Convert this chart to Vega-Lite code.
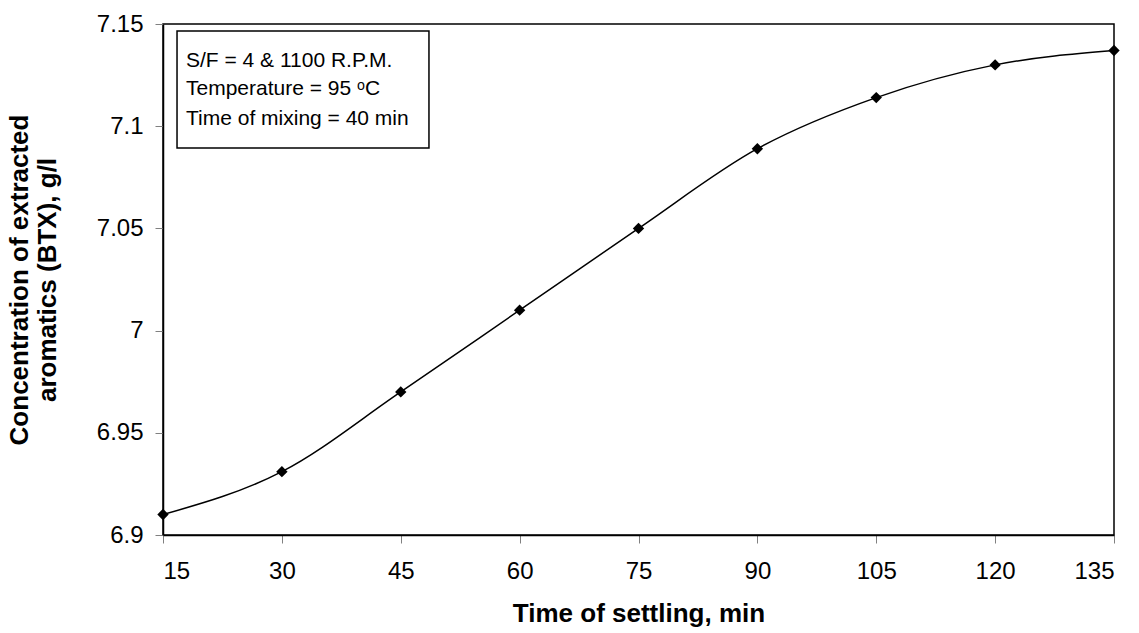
{
  "$schema": "https://vega.github.io/schema/vega-lite/v6.json",
  "autosize": "none",
  "width": 951,
  "height": 511,
  "padding": {"left": 163, "top": 24, "right": 25, "bottom": 98},
  "background": "white",
  "config": {
    "font": "Liberation Sans",
    "view": {"stroke": "black", "strokeWidth": 1.5},
    "axis": {
      "grid": false,
      "domainColor": "black",
      "domainWidth": 1.5,
      "tickColor": "#808080",
      "tickSize": 8,
      "labelFont": "Liberation Sans",
      "labelFontSize": 24,
      "labelColor": "black",
      "titleFont": "Liberation Sans",
      "titleFontSize": 26,
      "titleFontWeight": "bold",
      "titleColor": "black"
    }
  },
  "datasets": {
    "points": [
      {"time": 15, "conc": 6.91},
      {"time": 30, "conc": 6.931},
      {"time": 45, "conc": 6.97},
      {"time": 60, "conc": 7.01},
      {"time": 75, "conc": 7.05},
      {"time": 90, "conc": 7.089},
      {"time": 105, "conc": 7.114},
      {"time": 120, "conc": 7.13},
      {"time": 135, "conc": 7.137}
    ],
    "box": [{"x1": 16.77, "x2": 48.56, "y1": 7.0893, "y2": 7.1466}],
    "notes": [
      {"x": 17.9, "y": 7.1318, "text": "S/F = 4 & 1100 R.P.M."},
      {"x": 17.9, "y": 7.1182, "text": "Temperature = 95 ᵒC"},
      {"x": 17.9, "y": 7.1035, "text": "Time of mixing = 40 min"}
    ]
  },
  "layer": [
    {
      "data": {"name": "box"},
      "mark": {"type": "rect", "fill": "white", "stroke": "black", "strokeWidth": 1.5},
      "encoding": {
        "x": {"field": "x1", "type": "quantitative", "scale": {"domain": [15, 135], "nice": false, "zero": false}},
        "x2": {"field": "x2"},
        "y": {"field": "y1", "type": "quantitative", "scale": {"domain": [6.9, 7.15], "nice": false, "zero": false}},
        "y2": {"field": "y2"}
      }
    },
    {
      "data": {"name": "notes"},
      "mark": {"type": "text", "align": "left", "baseline": "middle", "fontSize": 21, "font": "Liberation Sans", "color": "black"},
      "encoding": {
        "x": {"field": "x", "type": "quantitative"},
        "y": {"field": "y", "type": "quantitative"},
        "text": {"field": "text"}
      }
    },
    {
      "data": {"name": "points"},
      "mark": {"type": "line", "interpolate": "monotone", "color": "black", "strokeWidth": 1.5},
      "encoding": {
        "x": {
          "field": "time", "type": "quantitative",
          "axis": {"values": [15, 30, 45, 60, 75, 90, 105, 120, 135], "title": "Time of settling, min", "labelPadding": 16, "titlePadding": 17}
        },
        "y": {
          "field": "conc", "type": "quantitative",
          "axis": {"values": [6.9, 6.95, 7, 7.05, 7.1, 7.15], "format": "~g", "title": ["Concentration of extracted", "aromatics (BTX), g/l"], "labelPadding": 12, "titlePadding": 36, "titleLineHeight": 28}
        }
      }
    },
    {
      "data": {"name": "points"},
      "mark": {"type": "point", "shape": "diamond", "filled": true, "color": "black", "size": 130, "opacity": 1},
      "encoding": {
        "x": {"field": "time", "type": "quantitative"},
        "y": {"field": "conc", "type": "quantitative"}
      }
    }
  ]
}
